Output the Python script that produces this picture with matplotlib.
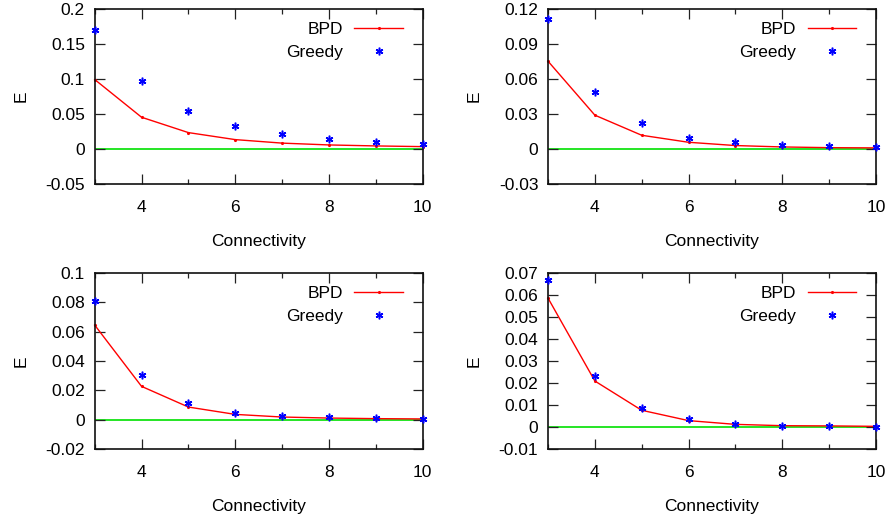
import matplotlib
matplotlib.use("Agg")
import matplotlib.pyplot as plt
from matplotlib.ticker import MultipleLocator

plt.rcParams['font.family'] = ['Liberation Sans', 'DejaVu Sans']

connectivity = [3, 4, 5, 6, 7, 8, 9, 10]

bpd_1 = [0.099, 0.0452, 0.0233, 0.0133, 0.0083, 0.0057, 0.0043, 0.0033]
greedy_1 = [0.170, 0.0967, 0.0548, 0.0324, 0.0219, 0.0138, 0.0100, 0.0067]

bpd_2 = [0.0751, 0.0289, 0.0117, 0.0057, 0.0029, 0.0017, 0.0011, 0.0009]
greedy_2 = [0.1114, 0.0486, 0.0220, 0.0094, 0.0057, 0.0034, 0.0023, 0.0014]

bpd_3 = [0.0645, 0.0227, 0.0086, 0.0036, 0.0018, 0.0011, 0.0007, 0.0005]
greedy_3 = [0.0807, 0.0302, 0.0114, 0.0045, 0.0025, 0.0018, 0.0009, 0.0005]

bpd_4 = [0.0586, 0.0209, 0.0076, 0.0029, 0.0012, 0.0006, 0.0005, 0.0003]
greedy_4 = [0.0667, 0.0233, 0.0086, 0.0035, 0.0015, 0.0006, 0.0003, 0.0002]

panels = [
    (bpd_1, greedy_1, (-0.05, 0.2), 0.05, ['-0.05', '0', '0.05', '0.1', '0.15', '0.2']),
    (bpd_2, greedy_2, (-0.03, 0.12), 0.03, ['-0.03', '0', '0.03', '0.06', '0.09', '0.12']),
    (bpd_3, greedy_3, (-0.02, 0.1), 0.02, ['-0.02', '0', '0.02', '0.04', '0.06', '0.08', '0.1']),
    (bpd_4, greedy_4, (-0.01, 0.07), 0.01, ['-0.01', '0', '0.01', '0.02', '0.03', '0.04', '0.05', '0.06', '0.07']),
]

W, H = 891, 516
fig = plt.figure(figsize=(W / 100, H / 100), dpi=100)

boxes = [
    (94.7, 8.7, 422.7, 184.0),
    (548.0, 8.7, 876.0, 184.0),
    (94.7, 273.0, 422.7, 449.0),
    (548.0, 273.0, 876.0, 449.0),
]

fs = 12.5
for (bpd, greedy, ylim, step, ylabels), (x0, y0, x1, y1) in zip(panels, boxes):
    ax = fig.add_axes([x0 / W, 1 - y1 / H, (x1 - x0) / W, (y1 - y0) / H])
    ax.axhline(0, color='#00e000', lw=1.2, zorder=1)
    ax.plot(connectivity, bpd, color='#ff0000', lw=1.0, marker='.', markersize=2.5,
            label='BPD', zorder=2, clip_on=False)
    ax.plot(connectivity, greedy, linestyle='none', marker=(6, 2, 0), markersize=5.5,
            markeredgewidth=1.1, color='#0000ff', label='Greedy', zorder=3, clip_on=False)
    ax.set_xlim(3, 10)
    ax.set_ylim(*ylim)
    ax.set_xticks([4, 6, 8, 10])
    ax.xaxis.set_minor_locator(MultipleLocator(1))
    yt = [ylim[0] + i * step for i in range(len(ylabels))]
    ax.set_yticks(yt)
    ax.set_yticklabels(ylabels)
    ax.tick_params(which='major', direction='in', length=7, width=0.9, top=True, right=True,
                   labelsize=fs, color='#222222')
    ax.tick_params(which='minor', direction='in', length=3.5, width=0.9, top=True, right=False,
                   color='#222222')
    ax.tick_params(axis='x', which='major', pad=11.5)
    ax.tick_params(axis='y', which='major', pad=7)
    for s in ax.spines.values():
        s.set_linewidth(1.2)
        s.set_color('#111111')
    ax.set_xlabel('Connectivity', fontsize=fs, labelpad=14)
    ax.set_ylabel('E', fontsize=fs, labelpad=12)
    ax.legend(loc='upper right', frameon=False, markerfirst=False, fontsize=fs,
              handlelength=2.8, handletextpad=0.65, borderaxespad=0, borderpad=0,
              labelspacing=0.45, bbox_to_anchor=((403 - 94.7) / 328.0, 0.925))

fig.savefig('out.png', dpi=100)
